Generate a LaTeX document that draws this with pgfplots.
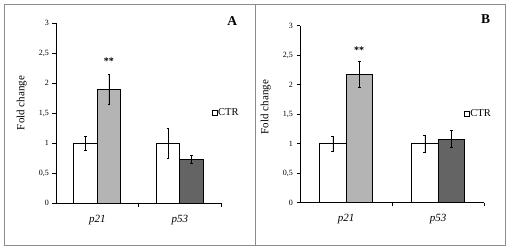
\documentclass[border=0pt]{standalone}
\usepackage{fontspec}
\setmainfont{Liberation Serif}
\usepackage{pgfplots}
\pgfplotsset{compat=1.18}
\definecolor{lgrey}{HTML}{B4B4B4}
\definecolor{dgrey}{HTML}{646464}
\definecolor{framegrey}{HTML}{8C8C8C}

\pgfplotsset{
 mybars/.style={
  scale only axis, ybar, xmin=-0.5, xmax=1.5, ymin=0, ymax=3,
  axis x line*=bottom, axis y line*=left, axis line style={-, line width=0.8pt},
  ytick={0,0.5,...,3},
  /pgf/number format/assume math mode=true,
  /pgf/number format/use comma,
  yticklabel style={font=\fontsize{8}{9}\selectfont},
  xtick={0,1}, xticklabels={\textit{p21},\textit{p53}},
  xticklabel style={font=\fontsize{11}{12}\selectfont, yshift=-4.5pt},
  tick align=outside, major tick length=3.5pt,
  tick style={black, line width=0.6pt},
  x tick style={draw=none},
  extra x ticks={0.5,1.5}, extra x tick labels={},
  extra x tick style={x tick style={draw=black}},
  ylabel={Fold change},
  legend style={draw=none, fill=none, anchor=west, font=\fontsize{10.5}{12}\selectfont, inner sep=0pt, nodes={inner sep=1pt}},
  legend image code/.code={\draw[#1, line width=0.6pt] (0pt,-2.5pt) rectangle (5pt,2.5pt);},
 },
 errs/.style={error bars/.cd, y dir=both, y explicit,
   error mark options={rotate=90, mark size=1.4pt, line width=0.5pt, black},
   error bar style={line width=0.5pt, black}},
}

\begin{document}
\begin{tikzpicture}
\useasboundingbox (0,0) rectangle (509pt,250pt);
\draw[framegrey, line width=0.8pt] (4pt,4.5pt) rectangle (505pt,245.5pt);
\draw[framegrey, line width=0.8pt] (255pt,4.5pt) -- (255pt,245.5pt);

% Panel A
\begin{axis}[mybars, anchor=south west, at={(56pt,46.8pt)}, width=165pt, height=180.2pt,
  bar width=23.4pt,
  ylabel style={at={(axis description cs:-0.208,0.556)}, anchor=center, font=\fontsize{11}{12}\selectfont},
  legend style={at={(axis description cs:0.942,0.502)}}]
\addplot[bar shift=-11.7pt, fill=white, draw=black, line width=0.8pt, errs] coordinates {(0,1.00) +- (0,0.12) (1,1.00) +- (0,0.245)};
\addlegendentry{CTR}
\addplot[forget plot, bar shift=11.7pt, fill=lgrey, draw=black, line width=0.8pt, errs] coordinates {(0,1.89) +- (0,0.25)};
\addplot[forget plot, bar shift=11.7pt, fill=dgrey, draw=black, line width=0.8pt, errs] coordinates {(1,0.727) +- (0,0.065)};
\node[font=\fontsize{10}{12}\selectfont\bfseries, xshift=11.7pt] at (axis cs:0,2.37) {**};
\end{axis}

% Panel B
\begin{axis}[mybars, anchor=south west, at={(300pt,47.3pt)}, width=184pt, height=177pt,
  bar width=26.3pt,
  ylabel style={at={(axis description cs:-0.186,0.54)}, anchor=center, font=\fontsize{11}{12}\selectfont},
  legend style={at={(axis description cs:0.889,0.50)}}]
\addplot[bar shift=-13.15pt, fill=white, draw=black, line width=0.8pt, errs] coordinates {(0,1.00) +- (0,0.125) (1,1.00) +- (0,0.14)};
\addlegendentry{CTR}
\addplot[forget plot, bar shift=13.15pt, fill=lgrey, draw=black, line width=0.8pt, errs] coordinates {(0,2.17) +- (0,0.22)};
\addplot[forget plot, bar shift=13.15pt, fill=dgrey, draw=black, line width=0.8pt, errs] coordinates {(1,1.08) +- (0,0.14)};
\node[font=\fontsize{10}{12}\selectfont\bfseries, xshift=13.15pt] at (axis cs:0,2.59) {**};
\end{axis}

\node[font=\fontsize{13.5}{14}\selectfont\bfseries] at (232.3pt,229.3pt) {A};
\node[font=\fontsize{13.5}{14}\selectfont\bfseries] at (485.7pt,230.7pt) {B};
\end{tikzpicture}
\end{document}
